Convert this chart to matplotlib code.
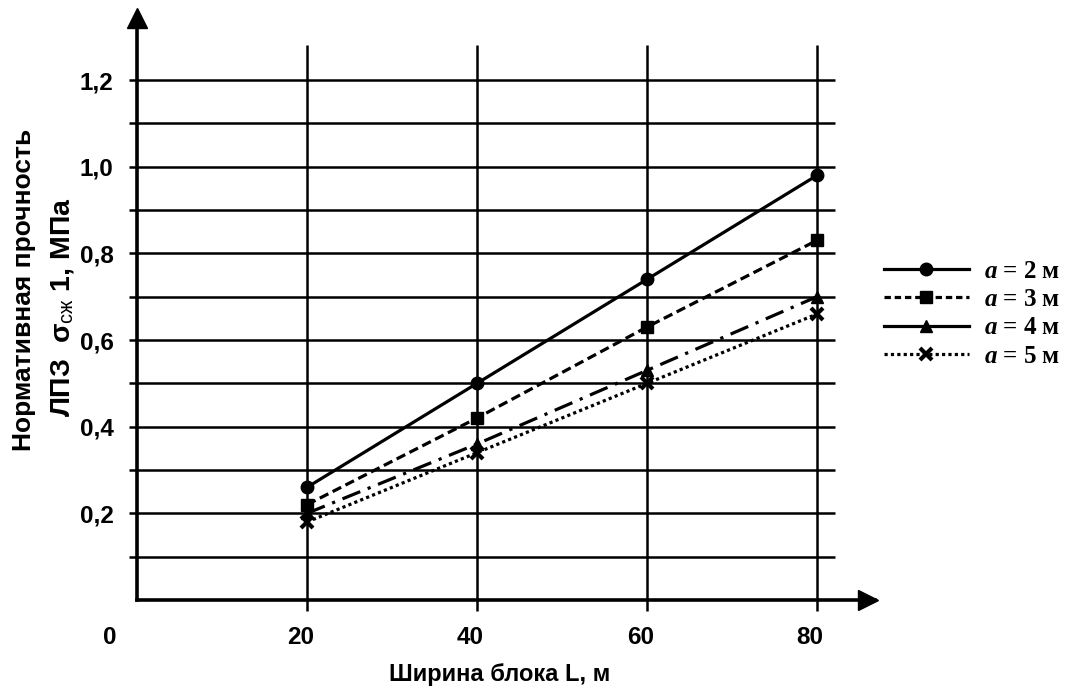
import matplotlib
matplotlib.use("Agg")
from matplotlib import pyplot as plt
from matplotlib.lines import Line2D

plt.rcParams['font.family'] = ['Liberation Sans', 'DejaVu Sans']
plt.rcParams['mathtext.fontset'] = 'custom'
plt.rcParams['mathtext.it'] = 'Liberation Serif:italic:bold'
plt.rcParams['mathtext.rm'] = 'Liberation Sans'

# data
widths = [20, 40, 60, 80]
a2 = [0.26, 0.50, 0.74, 0.98]
a3 = [0.22, 0.42, 0.63, 0.83]
a4 = [0.20, 0.36, 0.53, 0.70]
a5 = [0.18, 0.34, 0.50, 0.66]
labels = [r"$a$ = 2 м", r"$a$ = 3 м", r"$a$ = 4 м", r"$a$ = 5 м"]
yticks = [0.2, 0.4, 0.6, 0.8, 1.0, 1.2]
ytick_labels = ["0,2", "0,4", "0,6", "0,8", "1,0", "1,2"]
grid_y = [0.1, 0.2, 0.3, 0.4, 0.5, 0.6, 0.7, 0.8, 0.9, 1.0, 1.1, 1.2]

W, H = 1080, 695
fig = plt.figure(figsize=(W / 100, H / 100), dpi=100)
fig.patch.set_facecolor('white')

x0, x1, yb, yt = 137, 875, 600, 15
ax = fig.add_axes([x0 / W, (H - yb) / H, (x1 - x0) / W, (yb - yt) / H])
xmax = (x1 - x0) / 8.5
ymax = (yb - yt) / 433.3
ax.set_xlim(0, xmax)
ax.set_ylim(0, ymax)

for s in ['top', 'right']:
    ax.spines[s].set_visible(False)
for s in ['left', 'bottom']:
    ax.spines[s].set_linewidth(2.6)
    ax.spines[s].set_color('black')

# grid
ax.hlines(grid_y, -1.0, 82.1, colors='black', lw=1.8, clip_on=False, zorder=1)
ax.vlines(widths, -0.025, 1.28, colors='black', lw=1.8, clip_on=False, zorder=1)

# arrows
ax.plot([0], [ymax - 0.008], marker='^', ms=14, color='black', clip_on=False, zorder=5)
ax.plot([xmax - 0.8], [0], marker='>', ms=14, color='black', clip_on=False, zorder=5)

# series
lw = 2.3
ax.plot(widths, a2, color='black', lw=lw, marker='o', ms=9, zorder=3)
ax.plot(widths, a3, color='black', lw=lw, marker='s', ms=9, dashes=(3, 1.5), zorder=3)
ax.plot(widths, a4, color='black', lw=lw, marker='^', ms=9, dashes=(6, 2.5, 1, 2.5), zorder=3)
ax.plot(widths, a5, color='black', lw=lw, marker='x', ms=8, mew=3, dashes=(1, 1), zorder=3)

# ticks
ax.set_xticks([])
for w in widths:
    ax.text(w - 0.8, -0.087, str(w), ha='center', va='center', fontsize=17.5, fontweight='bold')
ax.set_yticks(yticks)
ax.set_yticklabels(ytick_labels, fontsize=17.5, fontweight='bold')
ax.tick_params(axis='y', length=0, pad=17)
ax.text(-3.2, -0.087, "0", ha='center', va='center', fontsize=17.5, fontweight='bold')

# axis labels
fig.text(500 / W, 1 - 674 / H, "Ширина блока L, м", ha='center', va='center',
         fontsize=17, fontweight='bold')
fig.text(24 / W, 1 - 290 / H, "Нормативная прочность", rotation=90,
         ha='center', va='center', fontsize=19, fontweight='bold')
fig.text(62 / W, 1 - 307 / H, r"ЛПЗ  σ$_{\mathrm{сж}}$ 1, МПа", rotation=90,
         ha='center', va='center', fontsize=20.5, fontweight='bold')

# legend
handles = [
    Line2D([], [], color='black', lw=lw, marker='o', ms=9),
    Line2D([], [], color='black', lw=lw, marker='s', ms=9, dashes=(2, 1.2)),
    Line2D([], [], color='black', lw=lw, marker='^', ms=9),
    Line2D([], [], color='black', lw=lw, marker='x', ms=8, mew=3, dashes=(1, 1)),
]
fig.legend(handles, labels, loc='upper left', bbox_to_anchor=(876 / W, 1 - 252 / H),
           frameon=False, handlelength=3.4, labelspacing=0.22, handletextpad=0.6,
           borderaxespad=0, borderpad=0.3,
           prop={'family': 'Liberation Serif', 'weight': 'bold', 'size': 18})

fig.savefig('out.png', dpi=100)
